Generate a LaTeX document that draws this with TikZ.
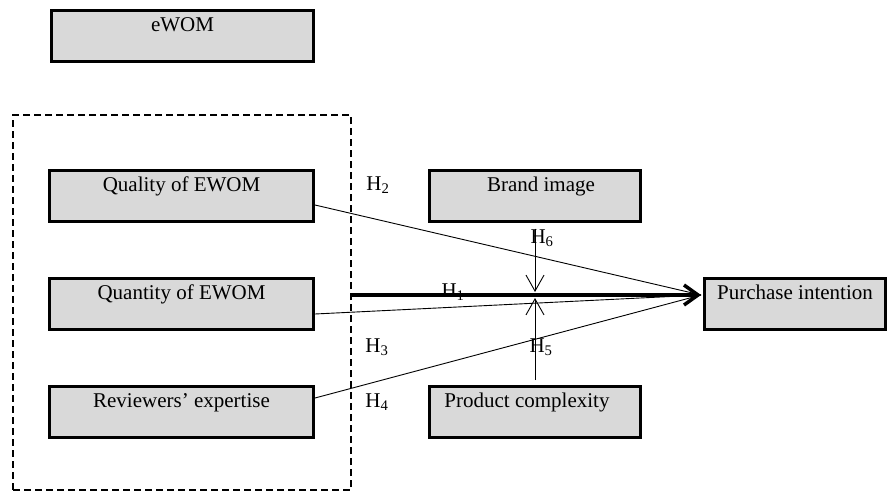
\documentclass[tikz,border=0pt]{standalone}
\usepackage{fontspec}
\setmainfont{Liberation Serif}
\usepackage{xcolor}
\usepackage{tikz}
\usetikzlibrary{arrows.meta}
\definecolor{boxgray}{HTML}{D9D9D9}

\begin{document}
\begin{tikzpicture}[x=1pt, y=-1pt,
        font=\fontsize{21}{25}\selectfont,
        varbox/.style={draw, line width=3pt, fill=boxgray, inner sep=0pt,
            minimum height=51pt, text height=21pt, text depth=30pt},
        hyp/.style={inner sep=0pt},
        effect/.style={line width=0.9pt},
        vhead/.style={-{Straight Barb[length=16pt,width=18pt]}}]
        \useasboundingbox (0,0) rectangle (890,493);

        \node[varbox, minimum width=262pt] (ewom) at (182.5,36) {eWOM};

        \node[draw, line width=1.6pt, dash pattern=on 7pt off 4pt,
            minimum width=338pt, minimum height=375pt] (grp) at (182,302.5) {};

        \node[varbox, minimum width=264pt] (qual) at (181.5,195.5) {Quality of EWOM};
        \node[varbox, minimum width=264pt] (quan) at (181.5,304) {Quantity of EWOM};
        \node[varbox, minimum width=264pt] (rev) at (181.5,412) {Reviewers’ expertise};

        \node[varbox, minimum width=211pt] (bi) at (535,195.5) {\hspace*{12pt}Brand image};
        \node[varbox, minimum width=211pt] (pc) at (535,412) {Product complexity\hspace*{16pt}};
        \node[varbox, minimum width=181pt] (pi) at (795,304) {Purchase intention};

        \coordinate (tip) at (701,295);
        \coordinate (cross) at (535,295);

        \draw[line width=3.5pt, -{Straight Barb[length=14pt,width=20pt]}] (grp.east |- tip) -- (tip);
        \draw[effect] ([yshift=-9.5pt]qual.east) -- (tip);
        \draw[effect] ([yshift=-10pt]quan.east) -- (tip);
        \draw[effect] ([yshift=14pt]rev.east) -- (tip);
        \draw[effect, vhead] ([yshift=-6pt]bi.south) -- ([yshift=3pt]cross);
        \draw[effect, vhead] ([yshift=5pt]pc.north) -- ([yshift=-3pt]cross);

        \node[hyp] (h1) at (453,292) {H\textsubscript{1}};
        \node[hyp] (h2) at (378,185) {H\textsubscript{2}};
        \node[hyp] (h3) at (377,347) {H\textsubscript{3}};
        \node[hyp] (h4) at (377,402) {H\textsubscript{4}};
        \node[hyp] (h5) at (541,347) {H\textsubscript{5}};
        \node[hyp] (h6) at (542,238) {H\textsubscript{6}};
    \end{tikzpicture}
\end{document}
